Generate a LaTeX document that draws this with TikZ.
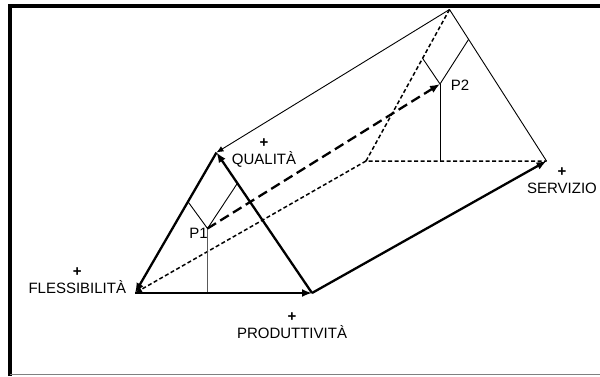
\documentclass[tikz,border=0pt]{standalone}
\usepackage{fontspec}
\setmainfont{Liberation Sans}
\usetikzlibrary{arrows.meta,calc}

\begin{document}
\begin{tikzpicture}[x=1pt, y=-1pt,
    kante/.style={line width=2.3pt, -{Latex[length=10pt,width=8pt]}},
    verdeckt/.style={line width=1.5pt, dash pattern=on 4pt off 2.5pt},
    duenn/.style={line width=0.9pt},
    lbl/.style={font=\fontsize{15}{17}\selectfont, align=center, inner sep=0pt}]
    \useasboundingbox (0,0) rectangle (600,376);

    % Rahmen
    \draw[line width=4pt] (10,376) -- (10,6) -- (600,6);
    \draw[gray, line width=1.5pt] (10,374.5) -- (600,374.5);

    % Ecken vorne / hinten
    \coordinate (F) at (135,293);
    \coordinate (P) at (312,293);
    \coordinate (Q) at (216.5,152.5);
    \coordinate (B) at (366,161);
    \coordinate (S) at (546.5,161);
    \coordinate (T) at (449.5,9.5);
    \coordinate (P1) at (207.5,228.5);
    \coordinate (P2) at (440,84);

    % verdeckte Kanten
    \draw[verdeckt] (T) -- (B) -- (S);
    \draw[verdeckt, -{Latex[length=7pt,width=6pt]}] (B) -- (F);

    % hintere Kanten
    \draw[duenn, -{Latex[length=7pt,width=6pt]}] (T) -- (Q);
    \draw[duenn] (T) -- (S);

    % Lote von P1 und P2
    \draw[gray!70!black, line width=1pt] (P1) -- (P1 |- F);
    \draw[duenn] ($(F)!0.65!(Q)$) -- (P1) -- ($(Q)!0.219!(P)$);
    \draw[duenn] (P2) -- (P2 |- B);
    \draw[duenn] ($(B)!0.678!(T)$) -- (P2) -- ($(T)!0.197!(S)$);

    % Achsen
    \draw[kante] (Q) -- (F);
    \draw[kante] (F) -- (P);
    \draw[kante] (P) -- (Q);
    \draw[kante] (P) -- (S);

    % Verschiebung P1 -> P2
    \draw[line width=2.3pt, dash pattern=on 10pt off 5pt, -{Latex[length=10pt,width=8pt]}] (P1) -- (P2);

    % Beschriftung
    \node[lbl] (qlab) at (264,153.5) {\textbf{+}\\QUALITÀ};
    \node[lbl] (slab) at (562,180.5) {\textbf{+}\\SERVIZIO};
    \node[lbl] (flab) at (77.3,281) {\textbf{+}\\FLESSIBILITÀ};
    \node[lbl] (plab) at (292,326) {\textbf{+}\\PRODUTTIVITÀ};
    \node[lbl] (p1lab) at (198.5,233.3) {P1};
    \node[lbl] (p2lab) at (460,85) {P2};
\end{tikzpicture}
\end{document}
